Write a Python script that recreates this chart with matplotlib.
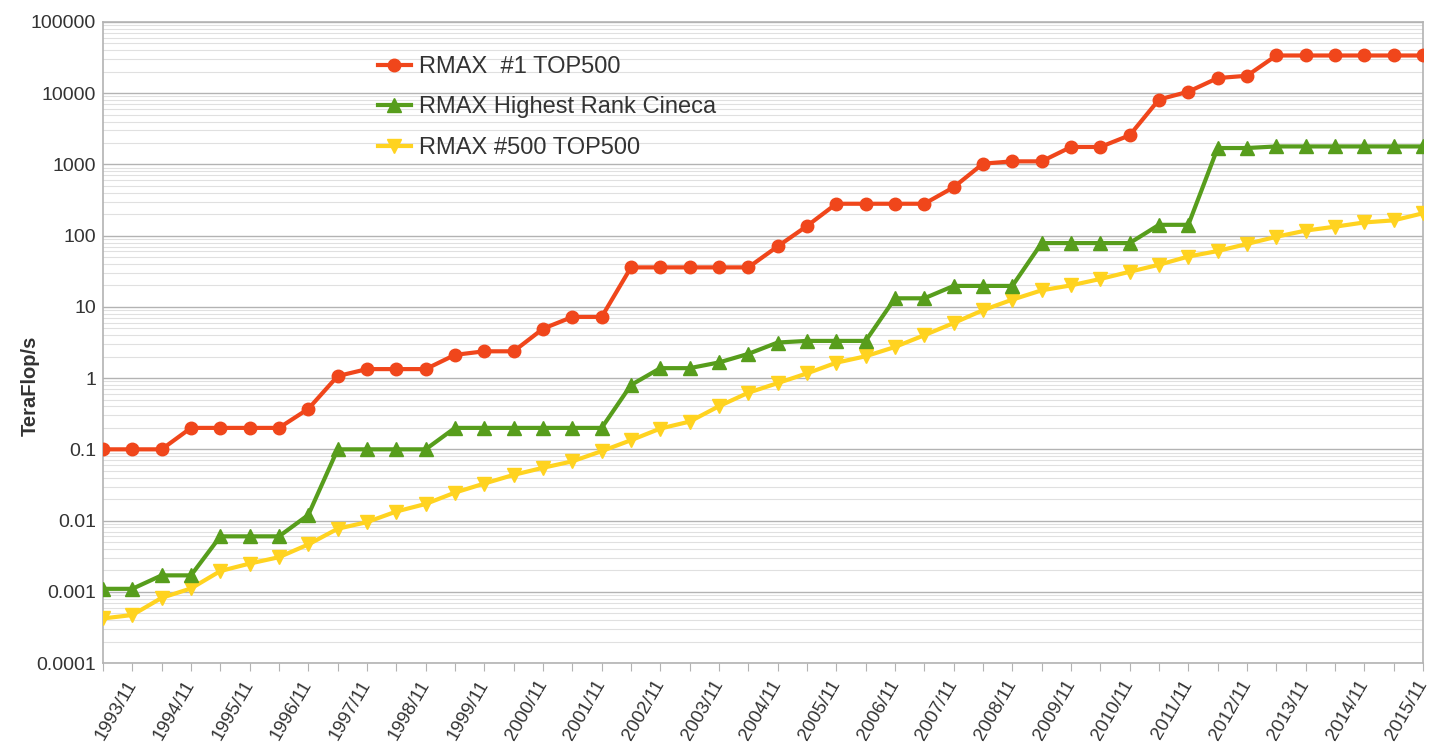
import matplotlib
matplotlib.use("Agg")
import matplotlib.pyplot as plt
from matplotlib.ticker import LogLocator, NullFormatter

plt.rcParams["font.family"] = ["Liberation Sans", "DejaVu Sans"]

# TOP500 lists, June and November of every year
periods = [f"{y}/{m}" for y in range(1993, 2016) for m in ("06", "11")]

# Rmax in TeraFlop/s
rmax_first = [0.1, 0.1, 0.1, 0.2, 0.2, 0.2, 0.2, 0.37, 1.068, 1.338,
              1.338, 1.338, 2.121, 2.379, 2.379, 4.938, 7.226, 7.226, 35.86, 35.86,
              35.86, 35.86, 35.86, 70.72, 136.8, 280.6, 280.6, 280.6, 280.6, 478.2,
              1026, 1105, 1105, 1759, 1759, 2566, 8162, 10510, 16325, 17590,
              33863, 33863, 33863, 33863, 33863, 33863]
rmax_cineca = [0.0011, 0.0011, 0.0017, 0.0017, 0.006, 0.006, 0.006, 0.012, 0.1, 0.1,
               0.1, 0.1, 0.2, 0.2, 0.2, 0.2, 0.2, 0.2, 0.8, 1.38,
               1.38, 1.66, 2.19, 3.16, 3.33, 3.33, 3.33, 13.2, 13.2, 19.7,
               19.7, 19.7, 78.7, 78.7, 78.7, 78.7, 142, 142, 1700, 1700,
               1790, 1790, 1790, 1790, 1790, 1790]
rmax_last = [0.000422, 0.000472, 0.000822, 0.001114, 0.001955, 0.002489, 0.00306, 0.00462, 0.00767, 0.00951,
             0.0134, 0.0171, 0.0247, 0.0331, 0.0438, 0.0551, 0.0678, 0.0943, 0.1343, 0.1958,
             0.2451, 0.4034, 0.624, 0.8506, 1.166, 1.646, 2.026, 2.737, 4.005, 5.929,
             9.0, 12.64, 17.09, 20.05, 24.67, 31.12, 39.09, 50.94, 60.82, 76.5,
             96.62, 117.8, 133.7, 153.4, 164.0, 206.3]

y_ticks = [0.0001, 0.001, 0.01, 0.1, 1, 10, 100, 1000, 10000, 100000]
y_labels = ["0.0001", "0.001", "0.01", "0.1", "1", "10", "100", "1000", "10000", "100000"]

x = list(range(len(periods)))

fig = plt.figure(figsize=(14.3, 7.47), dpi=100)
ax = fig.add_axes([103 / 1430, 84 / 747, 1320 / 1430, 641 / 747])

ax.plot(x, rmax_first, color="#f0461b", lw=3, marker="o", ms=9,
        label="RMAX  #1 TOP500", zorder=5)
ax.plot(x, rmax_cineca, color="#579d1c", lw=3, marker="^", ms=9.5,
        label="RMAX Highest Rank Cineca", zorder=4)
ax.plot(x, rmax_last, color="#ffd320", lw=3, marker="v", ms=9.5,
        label="RMAX #500 TOP500", zorder=3)

ax.set_yscale("log")
ax.set_ylim(0.0001, 100000)
ax.set_xlim(0, len(periods) - 1)
ax.set_yticks(y_ticks)
ax.set_yticklabels(y_labels)
ax.yaxis.set_minor_locator(LogLocator(base=10, subs=range(2, 10), numticks=20))
ax.yaxis.set_minor_formatter(NullFormatter())

ax.set_xticks(x)
ax.set_xticklabels([p if p.endswith("/11") else "" for p in periods],
                   rotation=60, ha="right", va="center", rotation_mode="anchor")

ax.grid(axis="y", which="major", color="#b3b3b3", lw=1)
ax.grid(axis="y", which="minor", color="#e0e0e0", lw=0.8)
ax.set_axisbelow(True)
for s in ax.spines.values():
    s.set_color("#b3b3b3")
    s.set_linewidth(1.2)

ax.tick_params(axis="y", which="both", length=0, pad=5, labelsize=14, labelcolor="#333333")
ax.tick_params(axis="x", length=6, color="#b3b3b3", pad=7, labelsize=13.5, labelcolor="#333333")

fig.text(30 / 1430, 1 - 386 / 747, "TeraFlop/s", rotation=90, ha="center", va="center",
         fontsize=14.5, fontweight="bold", color="#333333")

ax.legend(loc="upper left", bbox_to_anchor=(0.192, 0.98), frameon=False, fontsize=17,
          handlelength=1.4, handletextpad=0.35, labelspacing=0.78, labelcolor="#333333")

fig.savefig("out.png", dpi=100)
